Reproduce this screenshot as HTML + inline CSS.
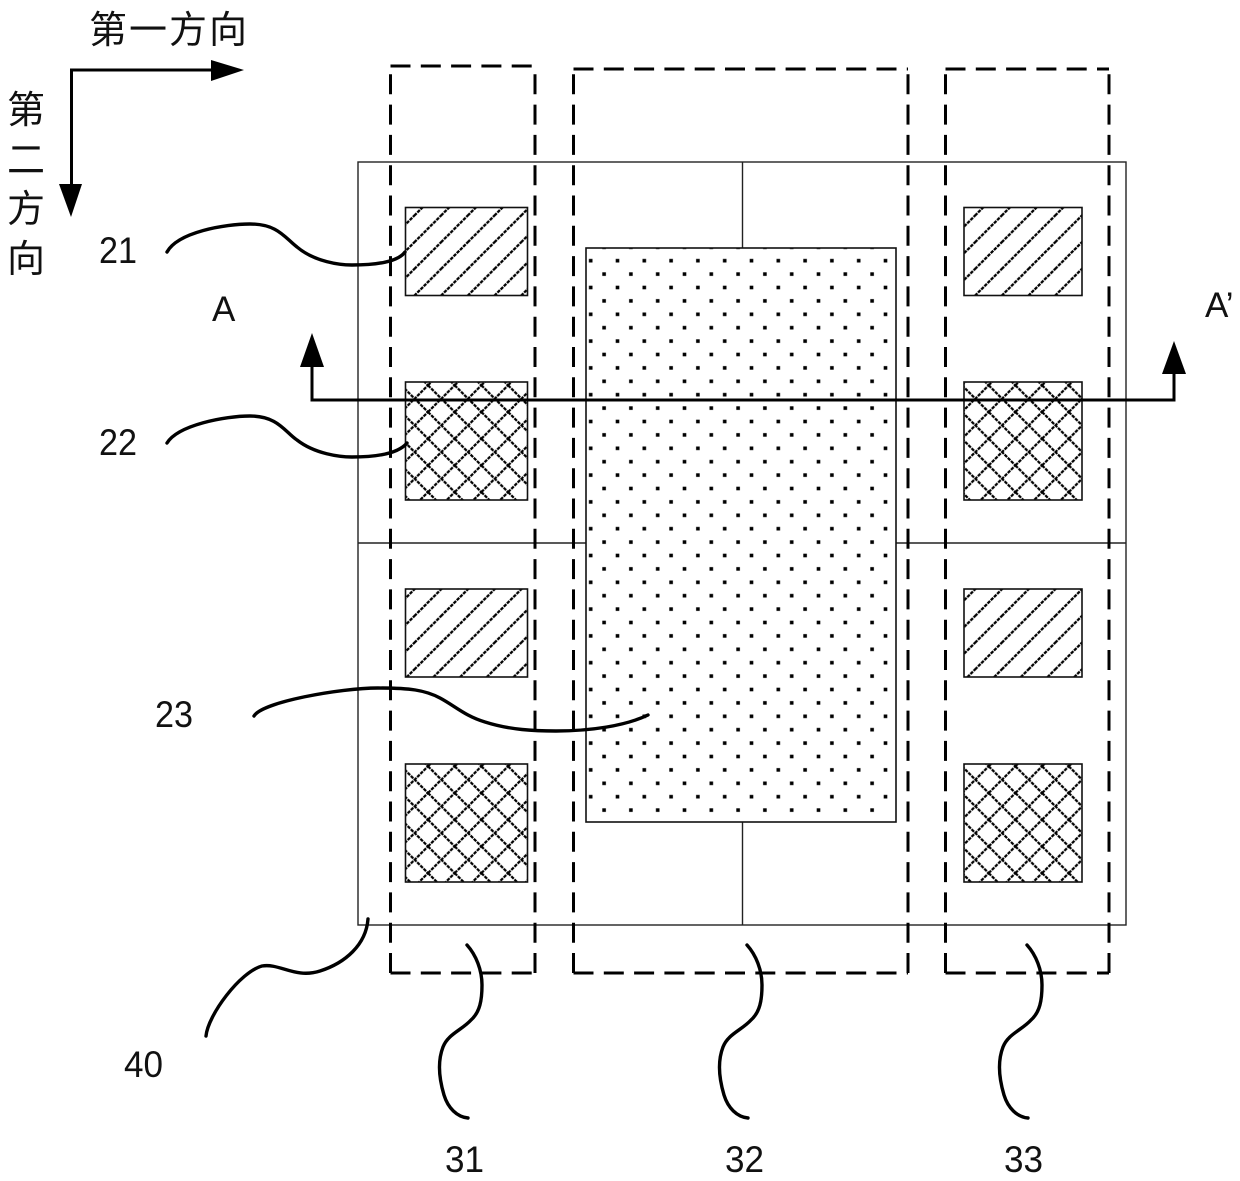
<!DOCTYPE html>
<html><head><meta charset="utf-8"><style>
html,body{margin:0;padding:0;background:#fff}
svg{display:block}
text{font-family:"Liberation Sans","Noto Sans CJK SC",sans-serif;fill:#111}
</style></head><body>
<svg width="1240" height="1181" viewBox="0 0 1240 1181" xmlns="http://www.w3.org/2000/svg">
<defs>
<pattern id="h1" patternUnits="userSpaceOnUse" width="26.7" height="26.7" patternTransform="translate(415,295)">
<path d="M-4 30.7L30.7 -4" stroke="#000" stroke-width="2.3" stroke-dasharray="3.5 1" fill="none"/>
<path d="M-4 4L4 -4M22.7 30.7L30.7 22.7" stroke="#000" stroke-width="2.3" stroke-dasharray="3.5 1" fill="none"/>
</pattern>
<pattern id="c1" patternUnits="userSpaceOnUse" width="26.7" height="26.7" patternTransform="translate(428,412)">
<path d="M0 0L26.7 26.7M0 26.7L26.7 0" stroke="#000" stroke-width="2.2" stroke-dasharray="3.5 1" fill="none"/>
</pattern>
<pattern id="c2" patternUnits="userSpaceOnUse" width="26.7" height="26.7" patternTransform="translate(428,793)">
<path d="M0 0L26.7 26.7M0 26.7L26.7 0" stroke="#000" stroke-width="2.2" stroke-dasharray="3.5 1" fill="none"/>
</pattern>
<pattern id="d1" patternUnits="userSpaceOnUse" width="26.8" height="26.8" patternTransform="translate(590.7,260.7)">
<rect x="-1.8" y="-1.8" width="3.6" height="3.6" fill="#000"/>
<rect x="25" y="-1.8" width="3.6" height="3.6" fill="#000"/>
<rect x="-1.8" y="25" width="3.6" height="3.6" fill="#000"/>
<rect x="25" y="25" width="3.6" height="3.6" fill="#000"/>
<rect x="11.6" y="11.6" width="3.6" height="3.6" fill="#000"/>
</pattern>
</defs>

<!-- outer cell -->
<rect x="358" y="162" width="768" height="763" fill="#fff" stroke="#222" stroke-width="1.4"/>
<line x1="358" y1="543" x2="1126" y2="543" stroke="#222" stroke-width="1.4"/>
<line x1="742.5" y1="162" x2="742.5" y2="925" stroke="#222" stroke-width="1.4"/>

<!-- center -->
<rect x="586" y="248" width="310" height="574" fill="#fff"/>
<rect x="586" y="248" width="310" height="574" fill="url(#d1)" stroke="#111" stroke-width="1.6"/>

<!-- left pads -->
<rect x="405.500" y="207.500" width="122" height="88" fill="url(#h1)" stroke="#111" stroke-width="1.6"/>
<rect x="405.500" y="382" width="122" height="118" fill="url(#c1)" stroke="#111" stroke-width="1.6"/>
<rect x="405.500" y="589" width="122" height="88" fill="url(#h1)" stroke="#111" stroke-width="1.6"/>
<rect x="405.500" y="764" width="122" height="118" fill="url(#c2)" stroke="#111" stroke-width="1.6"/>
<!-- right pads -->
<rect x="964" y="207.500" width="118" height="88" fill="url(#h1)" stroke="#111" stroke-width="1.6"/>
<rect x="964" y="382" width="118" height="118" fill="url(#c1)" stroke="#111" stroke-width="1.6"/>
<rect x="964" y="589" width="118" height="88" fill="url(#h1)" stroke="#111" stroke-width="1.6"/>
<rect x="964" y="764" width="118" height="118" fill="url(#c2)" stroke="#111" stroke-width="1.6"/>

<!-- dashed regions -->
<g stroke="#000" stroke-width="3" fill="none" stroke-dasharray="20 10.3">
<path d="M390.500 973V66"/><path d="M390.500 66H535"/><path d="M390.500 973H535"/><path d="M535 973V66"/>
<path d="M573.500 973V69"/><path d="M573.500 69H908"/><path d="M573.500 973H908"/><path d="M908 973V69"/>
<path d="M945.500 973V69"/><path d="M945.500 69H1109"/><path d="M945.500 973H1109"/><path d="M1109 973V69"/>
</g>

<!-- section line -->
<path d="M312 365V400H1174V372" stroke="#000" stroke-width="3" fill="none"/>
<polygon points="312,333 300,367 324,367" fill="#000"/>
<polygon points="1174,341 1162,374 1186,374" fill="#000"/>

<!-- axis arrows -->
<path d="M212 70H71.500V186" stroke="#000" stroke-width="3" fill="none"/>
<polygon points="244,70 211,60 211,81" fill="#000"/>
<polygon points="71,217 59,184 82,184" fill="#000"/>

<!-- leader curves -->
<g stroke="#000" stroke-width="3.4" fill="none" stroke-linecap="round">
<path d="M167 252C178 232 225 224 250 224C278 224 285 238 297 247C315 262 340 265 352 265C375 265 398 262 405 252"/>
<path d="M167 443C178 425 225 416 250 416C278 416 285 432 297 440C315 454 340 457 352 457C375 457 398 454 407 443"/>
<path d="M254 716C262 702 340 688 378 688C410 688 425 690 440 698C455 706 465 716 485 722C510 730 535 731 556 731C590 731 625 726 648 715"/>
<path d="M368 919C366 945 345 963 320 971C295 979 280 963 262 966C240 972 208 1015 206 1036"/>
<path d="M467 945C476 955 482 970 482 985C482 1000 480 1012 471 1020C462 1030 448 1034 443 1047C438 1060 438 1075 444 1095C448 1108 457 1117 468 1118"/>
<path d="M747 945C756 955 762 970 762 985C762 1000 760 1012 751 1020C742 1030 728 1034 723 1047C718 1060 718 1075 724 1095C728 1108 737 1117 748 1118"/>
<path d="M1027 945C1036 955 1042 970 1042 985C1042 1000 1040 1012 1031 1020C1022 1030 1008 1034 1003 1047C998 1060 998 1075 1004 1095C1008 1108 1017 1117 1028 1118"/>
</g>

<!-- labels -->
<text x="89" y="43" font-size="38" letter-spacing="2">第一方向</text>
<text x="7" y="123" font-size="38">第</text>
<text x="7" y="173" font-size="38">二</text>
<text x="7" y="222" font-size="38">方</text>
<text x="7" y="272" font-size="38">向</text>
<g font-size="37">
<text x="99" y="263" textLength="38" lengthAdjust="spacingAndGlyphs">21</text>
<text x="99" y="455" textLength="38" lengthAdjust="spacingAndGlyphs">22</text>
<text x="155" y="727" textLength="38" lengthAdjust="spacingAndGlyphs">23</text>
<text x="124" y="1077" textLength="39" lengthAdjust="spacingAndGlyphs">40</text>
<text x="445" y="1172" textLength="39" lengthAdjust="spacingAndGlyphs">31</text>
<text x="725" y="1172" textLength="39" lengthAdjust="spacingAndGlyphs">32</text>
<text x="1004" y="1172" textLength="39" lengthAdjust="spacingAndGlyphs">33</text>
</g>
<text x="212" y="321" font-size="35">A</text>
<text x="1205" y="317" font-size="35">A’</text>
</svg>
</body></html>
